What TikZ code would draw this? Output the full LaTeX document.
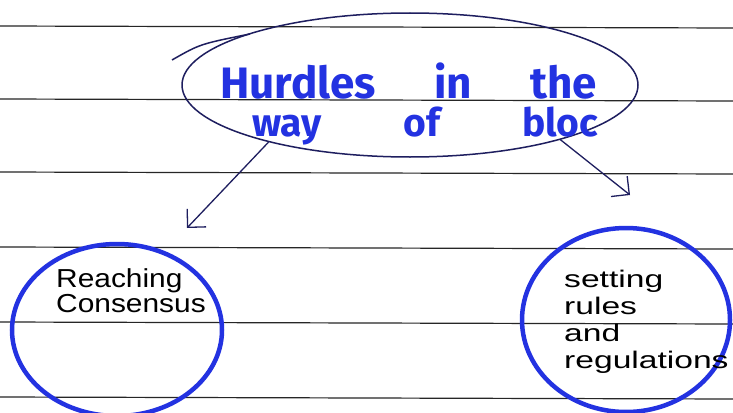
\documentclass[tikz,border=0pt]{standalone}
\usepackage{fontspec}
\setmainfont{Fira Sans}
\newfontfamily\handfont{Liberation Sans}[FakeStretch=1.15]
\newfontfamily\widehand{Liberation Sans}[FakeStretch=1.4]
\usetikzlibrary{arrows.meta,shapes.geometric}
\definecolor{ink}{RGB}{30,30,95}
\definecolor{marker}{RGB}{35,50,225}

\begin{document}
\begin{tikzpicture}[x=1pt,y=-1pt,>={Straight Barb[length=13pt,width=26pt]},
  bubble/.style={ellipse,draw=ink,line width=1.5pt,minimum width=456pt,minimum height=144pt,inner sep=0pt},
  ring/.style={ellipse,draw=marker,line width=4.5pt,inner sep=0pt},
  title/.style={text=marker,inner sep=0pt,anchor=base west},
  note/.style={align=left,inner sep=0pt,anchor=north west},
  rule/.style={line width=1.2pt,black!85}]
  \useasboundingbox[fill=white] (0,0) rectangle (733,412);
  % ruled paper
  \foreach \y in {26,99,172,247,322,397}
    \draw[rule] (0,\y) -- (733,\y+2);
  % heading
  \node[bubble] (hurdles) at (410,85) {};
  \draw[ink,line width=1.5pt] (172,60) .. controls (200,44) .. (250,34);
  \node[title,font=\bfseries\fontsize{44}{44}\selectfont] (line1) at (220,98) {\makebox[377pt][s]{Hurdles in the}};
  \node[title,font=\bfseries\fontsize{39}{39}\selectfont] (line2) at (252,136) {\makebox[346pt][s]{way of bloc}};
  % branches
  \node[ring,minimum width=210pt,minimum height=172pt] (consensus) at (117,330) {};
  \node[ring,minimum width=208pt,minimum height=184pt] (rules) at (626,320) {};
  \node[note,font=\handfont\fontsize{26}{25}\selectfont] (consensustext) at (56,268) {Reaching\\Consensus};
  \node[note,font=\widehand\fontsize{24}{27}\selectfont] (rulestext) at (564,270) {setting\\rules\\and\\regulations};
  \coordinate (lefttip) at (187,228);
  \coordinate (righttip) at (630,195);
  \draw[->,ink,line width=1.3pt] (hurdles.202) -- (lefttip);
  \draw[->,ink,line width=1.3pt] (hurdles.340) -- (righttip);
\end{tikzpicture}
\end{document}
